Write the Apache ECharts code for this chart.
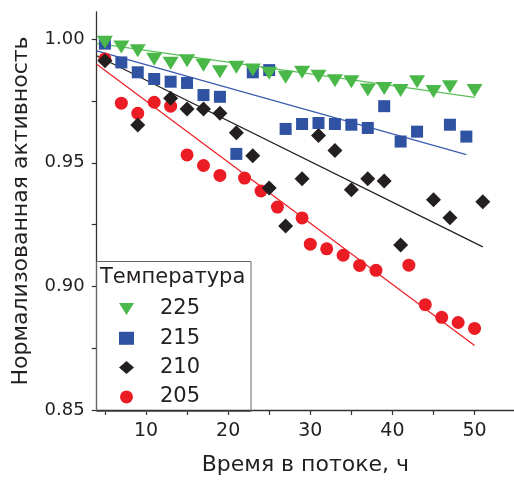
<!DOCTYPE html>
<html>
<head>
<meta charset="utf-8">
<script src="https://cdn.jsdelivr.net/npm/echarts@6.0.0/dist/echarts.min.js"></script>
<style>
body{margin:0;background:#fff;}
#chart{width:514px;height:481px;}
</style>
</head>
<body>
<div id="chart"></div>
<script>
/*数据*/
var x225 = [5,7,9,11,13,15,17,19,21,23,25,27,29,31,33,35,37,39,41,43,45,47,50];
var y225 = [0.9988,0.9968,0.9953,0.9919,0.9903,0.9913,0.9895,0.9868,0.9887,0.9875,0.9862,0.9846,0.9866,0.9850,0.9832,0.9828,0.9794,0.9801,0.9792,0.9828,0.9788,0.9808,0.9792];
var x215 = [5,7,9,11,13,15,17,19,21,23,25,27,29,31,33,35,37,39,41,43,47,49];
var y215 = [0.9982,0.9906,0.9866,0.9839,0.9828,0.9823,0.9774,0.9767,0.9536,0.9866,0.9875,0.9637,0.9657,0.9661,0.9657,0.9654,0.9641,0.9729,0.9586,0.9626,0.9654,0.9606];
var x210 = [5,9,13,15,17,19,21,23,25,27,29,31,33,35,37,39,41,45,47,51];
var y210 = [0.9913,0.9653,0.9761,0.9718,0.9718,0.9700,0.9622,0.9528,0.9398,0.9244,0.9435,0.9610,0.9550,0.9391,0.9435,0.9426,0.9167,0.9351,0.9278,0.9342];
var x205 = [5,7,9,11,13,15,17,19,22,24,26,29,30,32,34,36,38,42,44,46,48,50];
var y205 = [0.9920,0.9741,0.9700,0.9745,0.9729,0.9532,0.9489,0.9449,0.9438,0.9386,0.9321,0.9277,0.9171,0.9152,0.9126,0.9085,0.9065,0.9086,0.8926,0.8875,0.8854,0.8830];
// 线性拟合线的两端
var fit225 = [[4,0.9983],[50,0.9765]];
var fit215 = [[4,0.9953],[49,0.9533]];
var fit210 = [[4,0.9933],[51,0.9160]];
var fit205 = [[4,0.9899],[50,0.8761]];
var xTicks = [5,10,15,20,25,30,35,40,45,50];
var xLabels = [10,20,30,40,50];
var yTicks = [0.85,0.875,0.90,0.925,0.95,0.975,1.00];
var yLabels = [0.85,0.90,0.95,1.00];

var font = 'DejaVu Sans';
var ink = '#231f20';
var triDown = 'path://M0,0L16,0L8,13Z';  //倒三角

function pairs(xs, ys){
	return xs.map(function(v, i){ return [v, ys[i]]; });
}

var option = {
	animation: false,
	backgroundColor: '#fff',
	grid: {left: 96.7, top: 12, right: 0, bottom: 70},
	xAxis: {
		type: 'value',
		min: 4,
		max: 54.8,
		name: 'Время в потоке, ч',
		nameLocation: 'middle',
		nameGap: 44,
		nameTextStyle: {fontFamily: font, fontSize: 22, color: ink},
		axisLine: {lineStyle: {color: '#333', width: 1.3}},
		axisTick: {customValues: xTicks, length: 5, lineStyle: {color: '#333', width: 1.2}},
		axisLabel: {customValues: xLabels, margin: 12, fontFamily: font, fontSize: 19, color: ink},
		splitLine: {show: false}
	},
	yAxis: {
		type: 'value',
		min: 0.85,
		max: 1.011,
		name: 'Нормализованная активность',
		nameLocation: 'middle',
		nameGap: 64,
		nameTextStyle: {fontFamily: font, fontSize: 22, color: ink},
		axisLine: {show: true, lineStyle: {color: '#333', width: 1.3}},
		axisTick: {show: true, customValues: yTicks, length: 5, lineStyle: {color: '#333', width: 1.2}},
		axisLabel: {customValues: yLabels, margin: 12, fontFamily: font, fontSize: 18, color: ink,
			formatter: function(v){ return v.toFixed(2); }},
		splitLine: {show: false}
	},
	legend: {
		orient: 'vertical',
		left: 119,
		top: 298.5,
		padding: 0,
		itemGap: 8.3,
		itemWidth: 15,
		itemHeight: 13,
		data: ['225','215','210','205'],
		textStyle: {fontFamily: font, fontSize: 21, color: ink, lineHeight: 21, padding: [0,0,0,21]}
	},
	graphic: [
		{type: 'rect', z: 10, shape: {x: 96.5, y: 261.5, width: 154.5, height: 150},
			style: {fill: 'none', stroke: '#666', lineWidth: 1}},
		{type: 'text', z: 10, x: 100, y: 278,
			style: {text: 'Температура', fill: ink, font: '21px "DejaVu Sans"', verticalAlign: 'middle'}}
	],
	series: [
		{name: 'fit225', type: 'line', data: fit225, symbol: 'none', z: 1, lineStyle: {color: '#5cbf5a', width: 1.2}},
		{name: 'fit215', type: 'line', data: fit215, symbol: 'none', z: 1, lineStyle: {color: '#3a5cb0', width: 1.2}},
		{name: 'fit210', type: 'line', data: fit210, symbol: 'none', z: 1, lineStyle: {color: ink, width: 1.2}},
		{name: 'fit205', type: 'line', data: fit205, symbol: 'none', z: 1, lineStyle: {color: '#ec1c24', width: 1.2}},
		{name: '225', type: 'scatter', data: pairs(x225, y225), z: 5, symbol: triDown,
			symbolSize: [16,13], itemStyle: {color: '#4ab848', opacity: 1}},
		{name: '215', type: 'scatter', data: pairs(x215, y215), z: 4, symbol: 'rect',
			symbolSize: 12, itemStyle: {color: '#2f52a3', opacity: 1}},
		{name: '210', type: 'scatter', data: pairs(x210, y210), z: 3, symbol: 'diamond',
			symbolSize: 15, itemStyle: {color: ink, opacity: 1}},
		{name: '205', type: 'scatter', data: pairs(x205, y205), z: 2, symbol: 'circle',
			symbolSize: 13, itemStyle: {color: '#ec1c24', opacity: 1}}
	]
};

var ichart = echarts.init(document.getElementById('chart'));
ichart.setOption(option);
</script>
</body>
</html>
